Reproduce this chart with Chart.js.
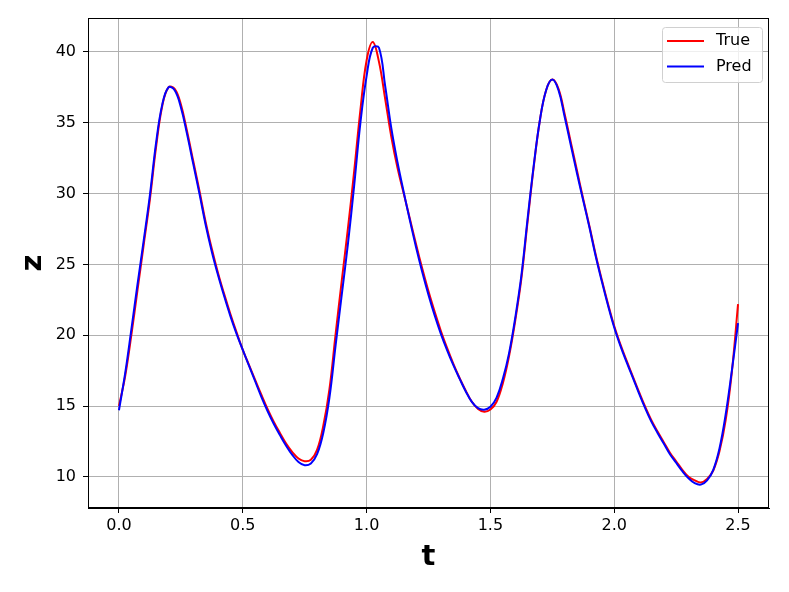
<!DOCTYPE html>
<html>
<head>
<meta charset="utf-8">
<script src="https://cdn.jsdelivr.net/npm/chart.js@4.4.0/dist/chart.umd.min.js"></script>
<style>
  html, body { margin: 0; padding: 0; background: #fff; }
  #wrap { width: 789px; height: 592px; }
</style>
</head>
<body>
<div id="wrap"><canvas id="myChart"></canvas></div>
<script>
const tValues = [0.000,0.025,0.050,0.075,0.100,0.125,0.150,0.175,0.200,0.225,
  0.250,0.275,0.300,0.325,0.350,0.375,0.400,0.425,0.450,0.475,
  0.500,0.525,0.550,0.575,0.600,0.625,0.650,0.675,0.700,0.725,
  0.750,0.775,0.800,0.825,0.850,0.875,0.900,0.925,0.950,0.975,
  1.000,1.025,1.050,1.075,1.100,1.125,1.150,1.175,1.200,1.225,
  1.250,1.275,1.300,1.325,1.350,1.375,1.400,1.425,1.450,1.475,
  1.500,1.525,1.550,1.575,1.600,1.625,1.650,1.675,1.700,1.725,
  1.750,1.775,1.800,1.825,1.850,1.875,1.900,1.925,1.950,1.975,
  2.000,2.025,2.050,2.075,2.100,2.125,2.150,2.175,2.200,2.225,
  2.250,2.275,2.300,2.325,2.350,2.375,2.400,2.425,2.450,2.475,2.500];

const zTrue = [15.0,17.1,20.0,23.2,26.4,29.6,33.3,36.2,37.5,37.4,
  36.3,34.4,32.3,30.2,28.0,26.1,24.4,22.9,21.5,20.2,
  18.97,17.9,16.85,15.8,14.8,13.9,13.1,12.35,11.75,11.3,
  11.1,11.2,11.9,13.6,16.2,20.1,23.9,27.6,31.6,35.9,
  39.4,40.7,39.3,36.7,34.0,31.8,30.0,28.2,26.4,24.7,
  23.1,21.65,20.3,19.1,18.0,17.0,16.1,15.3,14.8,14.6,
  14.75,15.3,16.6,18.5,21.0,24.0,28.0,31.9,35.2,37.3,
  38.05,37.4,35.6,33.6,31.6,29.6,27.7,25.7,23.9,22.2,
  20.65,19.35,18.2,17.1,16.0,14.95,14.0,13.2,12.45,11.7,
  11.1,10.5,10.0,9.75,9.6,9.85,10.45,11.8,14.0,17.4,22.2];

const zPred = [14.7,17.3,20.4,23.6,26.7,29.9,33.6,36.3,37.5,37.3,
  36.1,34.2,32.1,30.0,27.8,25.9,24.25,22.75,21.35,20.1,
  18.97,17.85,16.75,15.65,14.65,13.75,12.95,12.2,11.55,11.05,
  10.82,10.95,11.6,13.1,15.6,19.3,22.9,26.5,30.6,35.0,
  38.3,40.3,40.3,37.6,34.6,32.2,30.1,28.1,26.2,24.45,
  22.85,21.4,20.1,18.95,17.9,16.95,16.05,15.3,14.85,14.74,
  14.95,15.6,16.9,18.7,21.2,24.2,28.2,32.0,35.2,37.3,
  38.05,37.3,35.4,33.4,31.4,29.5,27.6,25.6,23.8,22.1,
  20.55,19.25,18.1,17.0,15.9,14.85,13.9,13.1,12.35,11.6,
  11.0,10.4,9.9,9.55,9.45,9.75,10.5,12.0,14.4,17.5,20.85];

const xTicks = [0.0, 0.5, 1.0, 1.5, 2.0, 2.5];
const yTicks = [10, 15, 20, 25, 30, 35, 40];

const tickFont = { family: 'DejaVu Sans', size: 16 };

// frame round the plot + matplotlib style legend
const framePlugin = {
  id: 'frame',
  afterDraw(chart) {
    const ctx = chart.ctx;
    const a = chart.chartArea;
    ctx.save();
    ctx.strokeStyle = '#000';
    ctx.lineWidth = 1;
    ctx.strokeRect(Math.round(a.left) + 0.5, Math.round(a.top) + 0.5,
      Math.round(a.right - a.left) - 1, Math.round(a.bottom - a.top) - 1);

    // legend
    const bx = 662, by = 27, bw = 100, bh = 55;
    ctx.fillStyle = 'rgba(255,255,255,0.8)';
    ctx.strokeStyle = '#d0d0d0';
    ctx.beginPath();
    ctx.roundRect(bx + 0.5, by + 0.5, bw, bh, 3);
    ctx.fill();
    ctx.stroke();
    ctx.font = '16px "DejaVu Sans"';
    ctx.textBaseline = 'middle';
    chart.data.datasets.forEach((ds, i) => {
      const y = 41 + i * 25.5;
      ctx.strokeStyle = ds.borderColor;
      ctx.lineWidth = 2;
      ctx.beginPath();
      ctx.moveTo(667, y);
      ctx.lineTo(704, y);
      ctx.stroke();
      ctx.fillStyle = '#000';
      ctx.fillText(ds.label, 716, y);
    });
    ctx.restore();
  }
};

const ctx = document.getElementById('myChart');
const chart = new Chart(ctx, {
  type: 'line',
  data: {
    labels: tValues,
    datasets: [
      {
        label: 'True',
        data: tValues.map((t, i) => ({ x: t, y: zTrue[i] })),
        borderColor: 'rgb(255,0,0)',
        borderWidth: 2,
        pointRadius: 0,
        tension: 0.4,
        fill: false,
        order: 2
      },
      {
        label: 'Pred',
        data: tValues.map((t, i) => ({ x: t, y: zPred[i] })),
        borderColor: 'rgb(0,0,255)',
        borderWidth: 2,
        pointRadius: 0,
        tension: 0.4,
        fill: false,
        order: 1
      }
    ]
  },
  options: {
    responsive: true,
    maintainAspectRatio: false,
    animation: false,
    layout: { padding: { left: 0, right: 20, top: 18, bottom: 0 } },
    plugins: {
      legend: { display: false },
      tooltip: { enabled: false }
    },
    scales: {
      x: {
        type: 'linear',
        min: -0.125,
        max: 2.625,
        afterBuildTicks: (s) => { s.ticks = xTicks.map(v => ({ value: v })); },
        afterFit: (s) => { s.height = 84; },
        ticks: {
          font: tickFont,
          color: '#000',
          padding: 3,
          maxRotation: 0,
          callback: (v) => v.toFixed(1)
        },
        grid: { color: '#b0b0b0', lineWidth: 1, tickColor: '#000', tickLength: 5 },
        border: { color: '#000', width: 1 },
        title: {
          display: true,
          text: 't',
          color: '#000',
          font: { family: 'DejaVu Sans', size: 29, weight: 'bold' },
          padding: { top: 0, bottom: 17 }
        }
      },
      y: {
        min: 7.8,
        max: 42.4,
        afterBuildTicks: (s) => { s.ticks = yTicks.map(v => ({ value: v })); },
        afterFit: (s) => { s.width = 88; },
        ticks: {
          font: tickFont,
          color: '#000',
          padding: 7,
          callback: (v) => String(v)
        },
        grid: { color: '#b0b0b0', lineWidth: 1, tickColor: '#000', tickLength: 5 },
        border: { color: '#000', width: 1 },
        title: {
          display: true,
          text: 'z',
          color: '#000',
          font: { family: 'DejaVu Sans', size: 29, weight: 'bold' },
          padding: { top: 16, bottom: 0 }
        }
      }
    }
  },
  plugins: [framePlugin]
});
</script>
</body>
</html>
